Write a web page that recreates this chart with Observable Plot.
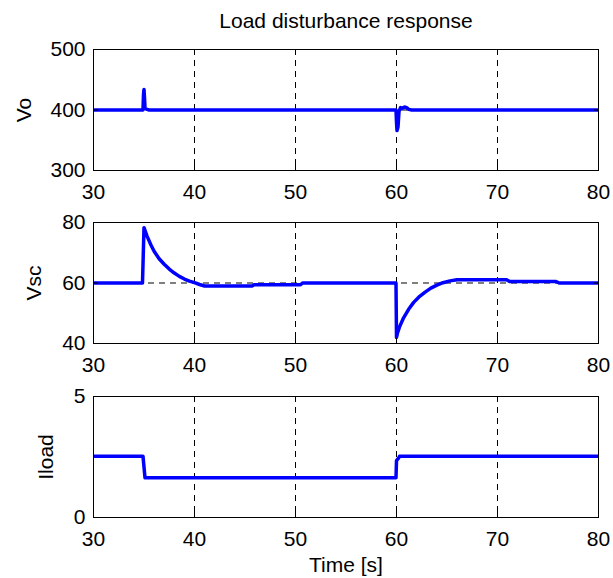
<!DOCTYPE html>
<html>
<head>
<meta charset="utf-8">
<script src="https://cdn.jsdelivr.net/npm/d3@7"></script>
<script src="https://cdn.jsdelivr.net/npm/@observablehq/plot@0.6"></script>
<style>
  html, body { margin: 0; padding: 0; background: #fff; overflow: hidden; }
  #chart { width: 613px; height: 578px; position: relative; }
  #chart svg { display: block; }
</style>
</head>
<body>
<div id="chart"></div>
<script>
// ---- data ----
const titleText = "Load disturbance response";
const xLabelText = "Time [s]";
const xTicks = [30, 40, 50, 60, 70, 80];
const xGrid = [40, 50, 60, 70];

// Vo
const voTime   = [30, 34.9, 34.95, 35.0, 35.05, 35.1, 35.3, 35.5, 59.95, 60.0, 60.05, 60.15, 60.25, 60.4, 60.6, 60.8, 61.0, 61.2, 61.5, 80];
const voValues = [400, 400, 425, 434, 420, 403, 401, 400, 400, 380, 366, 372, 398, 404, 403, 405, 404, 401, 400, 400];
const voTicks = [300, 400, 500];

// Vsc
const vscTime   = [30, 34.85, 35.0, 35.3, 35.7, 36.0, 36.5, 37.0, 37.5, 38.0, 38.5, 39.0, 39.5, 40.0, 40.5, 41.0, 45.7, 45.9, 50.5, 50.7, 59.95,
                   60.0, 60.1, 60.3, 60.7, 61.2, 61.7, 62.2, 62.8, 63.4, 64.0, 64.6, 65.3, 66.0, 70.9, 71.2, 75.8, 76.1, 80];
const vscValues = [60, 60, 78.3, 75.5, 72.5, 70.5, 68.0, 66.2, 64.6, 63.3, 62.2, 61.3, 60.6, 60.1, 59.5, 59.0, 59.0, 59.4, 59.4, 60.0, 60.0,
                   42.0, 43.5, 45.5, 48.5, 51.3, 53.6, 55.3, 56.9, 58.3, 59.3, 60.1, 60.7, 61.1, 61.1, 60.5, 60.5, 60.0, 60.0];
const vscTicks = [40, 60, 80];

// Iload
const iTime   = [30, 34.9, 35.1, 59.95, 60.0, 60.2, 60.3, 80];
const iValues = [2.53, 2.53, 1.64, 1.64, 2.35, 2.45, 2.53, 2.53];
const iTicks = [0, 5];

// ---- drawing ----
const FONT = "'Liberation Sans', Arial, Helvetica, sans-serif";
const FS = 21;
const BLUE = "#0000ff";

function panel({time, values, yDomain, yTicks, yGrid, yLabel, labelDx, marginTop, marginBottom, extra = []}) {
  const data = time.map((t, i) => ({t, v: values[i]}));
  return Plot.plot({
    width: 613,
    height: marginTop + 121 + marginBottom,
    marginLeft: 93,
    marginRight: 15,
    marginTop,
    marginBottom,
    style: {fontFamily: FONT, fontSize: FS + "px", color: "#000", background: "#fff", overflow: "visible"},
    x: {domain: [30, 80], label: null},
    y: {domain: yDomain, label: null},
    marks: [
      Plot.ruleX(xGrid, {x: d => d, stroke: "#000", strokeWidth: 1, strokeDasharray: "6,5"}),
      Plot.ruleY(yGrid, {y: d => d, stroke: "#000", strokeWidth: 1, strokeDasharray: "6,5"}),
      Plot.line(data, {x: "t", y: "v", stroke: BLUE, strokeWidth: 3.5, strokeLinejoin: "round", clip: true}),
      Plot.frame({stroke: "#000", strokeWidth: 1}),
      Plot.axisX({ticks: xTicks, anchor: "bottom", tickSize: -5, tickPadding: 19, fontSize: FS, label: null, tickFormat: d => String(d)}),
      Plot.axisX({ticks: xTicks, anchor: "top", tickSize: -5, label: null, tickFormat: () => ""}),
      Plot.axisY({ticks: yTicks, anchor: "left", tickSize: -5, tickPadding: 13, fontSize: FS, label: null, tickFormat: d => String(d)}),
      Plot.axisY({ticks: yTicks, anchor: "right", tickSize: -5, label: null, tickFormat: () => ""}),
      Plot.text([yLabel], {text: d => d, frameAnchor: "left", dx: labelDx, rotate: -90, fontSize: FS, fill: "#000", textAnchor: "middle", lineAnchor: "middle"}),
      ...extra
    ]
  });
}

const chart = document.getElementById("chart");

chart.appendChild(panel({
  time: voTime, values: voValues, yDomain: [300, 500], yTicks: voTicks, yGrid: [400],
  yLabel: "Vo", labelDx: -69, marginTop: 49, marginBottom: 41,
  extra: [Plot.text([titleText], {text: d => d, frameAnchor: "top", dy: -28, fontSize: FS, fill: "#000", textAnchor: "middle", lineAnchor: "middle"})]
}));

chart.appendChild(panel({
  time: vscTime, values: vscValues, yDomain: [40, 80], yTicks: vscTicks, yGrid: [60],
  yLabel: "Vsc", labelDx: -59, marginTop: 11, marginBottom: 42
}));

chart.appendChild(panel({
  time: iTime, values: iValues, yDomain: [0, 5], yTicks: iTicks, yGrid: [],
  yLabel: "Iload", labelDx: -47, marginTop: 11, marginBottom: 61,
  extra: [Plot.text([xLabelText], {text: d => d, frameAnchor: "bottom", dy: 48, fontSize: FS, fill: "#000", textAnchor: "middle", lineAnchor: "middle"})]
}));
</script>
</body>
</html>
